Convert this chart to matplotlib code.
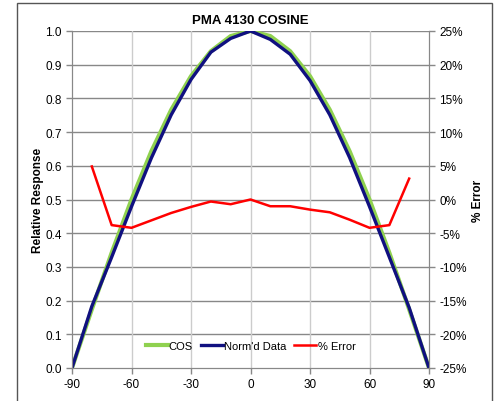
import numpy as np
import matplotlib.pyplot as plt
from matplotlib.patches import Rectangle
from matplotlib.ticker import FuncFormatter

# angles (deg) and curves
angles = [-90, -80, -70, -60, -50, -40, -30, -20, -10, 0,
          10, 20, 30, 40, 50, 60, 70, 80, 90]
cos_vals = [0.0, 0.174, 0.342, 0.500, 0.643, 0.766, 0.866, 0.940, 0.985, 1.0,
            0.985, 0.940, 0.866, 0.766, 0.643, 0.500, 0.342, 0.174, 0.0]
normd = [0.0, 0.183, 0.329, 0.479, 0.623, 0.751, 0.856, 0.937, 0.978, 1.0,
         0.975, 0.931, 0.853, 0.751, 0.624, 0.479, 0.329, 0.179, 0.0]

err_angles = [-80, -70, -60, -50, -40, -30, -20, -10, 0,
              10, 20, 30, 40, 50, 60, 70, 80]
err_pct = [4.9, -3.8, -4.2, -3.1, -2.0, -1.1, -0.3, -0.7, 0.0,
           -1.0, -1.0, -1.5, -1.9, -3.0, -4.2, -3.8, 3.1]

plt.rcParams['font.family'] = ['Liberation Sans', 'DejaVu Sans']
plt.rcParams['axes.unicode_minus'] = False

fig = plt.figure(figsize=(4.95, 4.02), dpi=100)
fig.patches.append(Rectangle((17 / 495, -0.01), 475 / 495, 1 - 4 / 402 + 0.01,
                             transform=fig.transFigure, fill=False,
                             edgecolor='#555555', linewidth=1.0))

ax = fig.add_axes([72 / 495, 1 - 369 / 402, 357 / 495, 337 / 402])
ax2 = ax.twinx()

l1, = ax.plot(angles, cos_vals, color='#8fd14f', linewidth=3.0, label='COS', zorder=3)
l2, = ax.plot(angles, normd, color='#101080', linewidth=2.4, label="Norm'd Data", zorder=4)
l3, = ax2.plot(err_angles, err_pct, color='#ff0000', linewidth=1.8, label='% Error', zorder=5)

ax.set_xlim(-90, 90)
ax.set_ylim(0, 1.0)
ax.set_xticks(range(-90, 91, 30))
ax.set_yticks(np.arange(0, 1.01, 0.1))
ax.yaxis.set_major_formatter(FuncFormatter(lambda v, p: f"{v:.1f}"))
ax2.set_ylim(-25, 25)
ax2.set_yticks(range(-25, 26, 5))
ax2.yaxis.set_major_formatter(FuncFormatter(lambda v, p: f"{int(v)}%"))

# grid: dark horizontal, light vertical
for y in np.arange(0.1, 1.01, 0.1):
    ax.axhline(y, color='#888888', linewidth=1.0, zorder=1)
for x in range(-60, 61, 30):
    ax.axvline(x, color='#cccccc', linewidth=1.0, zorder=1)

for a in (ax, ax2):
    for s in a.spines.values():
        s.set_color('#888888')
    a.spines['top'].set_visible(False)
    a.tick_params(labelsize=8.5, color='#888888', length=4, width=1)

ax.set_ylabel('Relative Response', fontsize=8.5, fontweight='bold', labelpad=1)
ax2.set_ylabel('% Error', fontsize=8.5, fontweight='bold', labelpad=4)
ax.set_title('PMA 4130 COSINE', fontsize=9.5, fontweight='bold', pad=6)

ax2.legend([l1, l2, l3], ['COS', "Norm'd Data", '% Error'], loc='center',
           bbox_to_anchor=(0.5, 0.065), ncol=3, frameon=False, fontsize=8,
           handlelength=2.0, handletextpad=0.1, columnspacing=0.7)

fig.savefig('out.png', dpi=100)
